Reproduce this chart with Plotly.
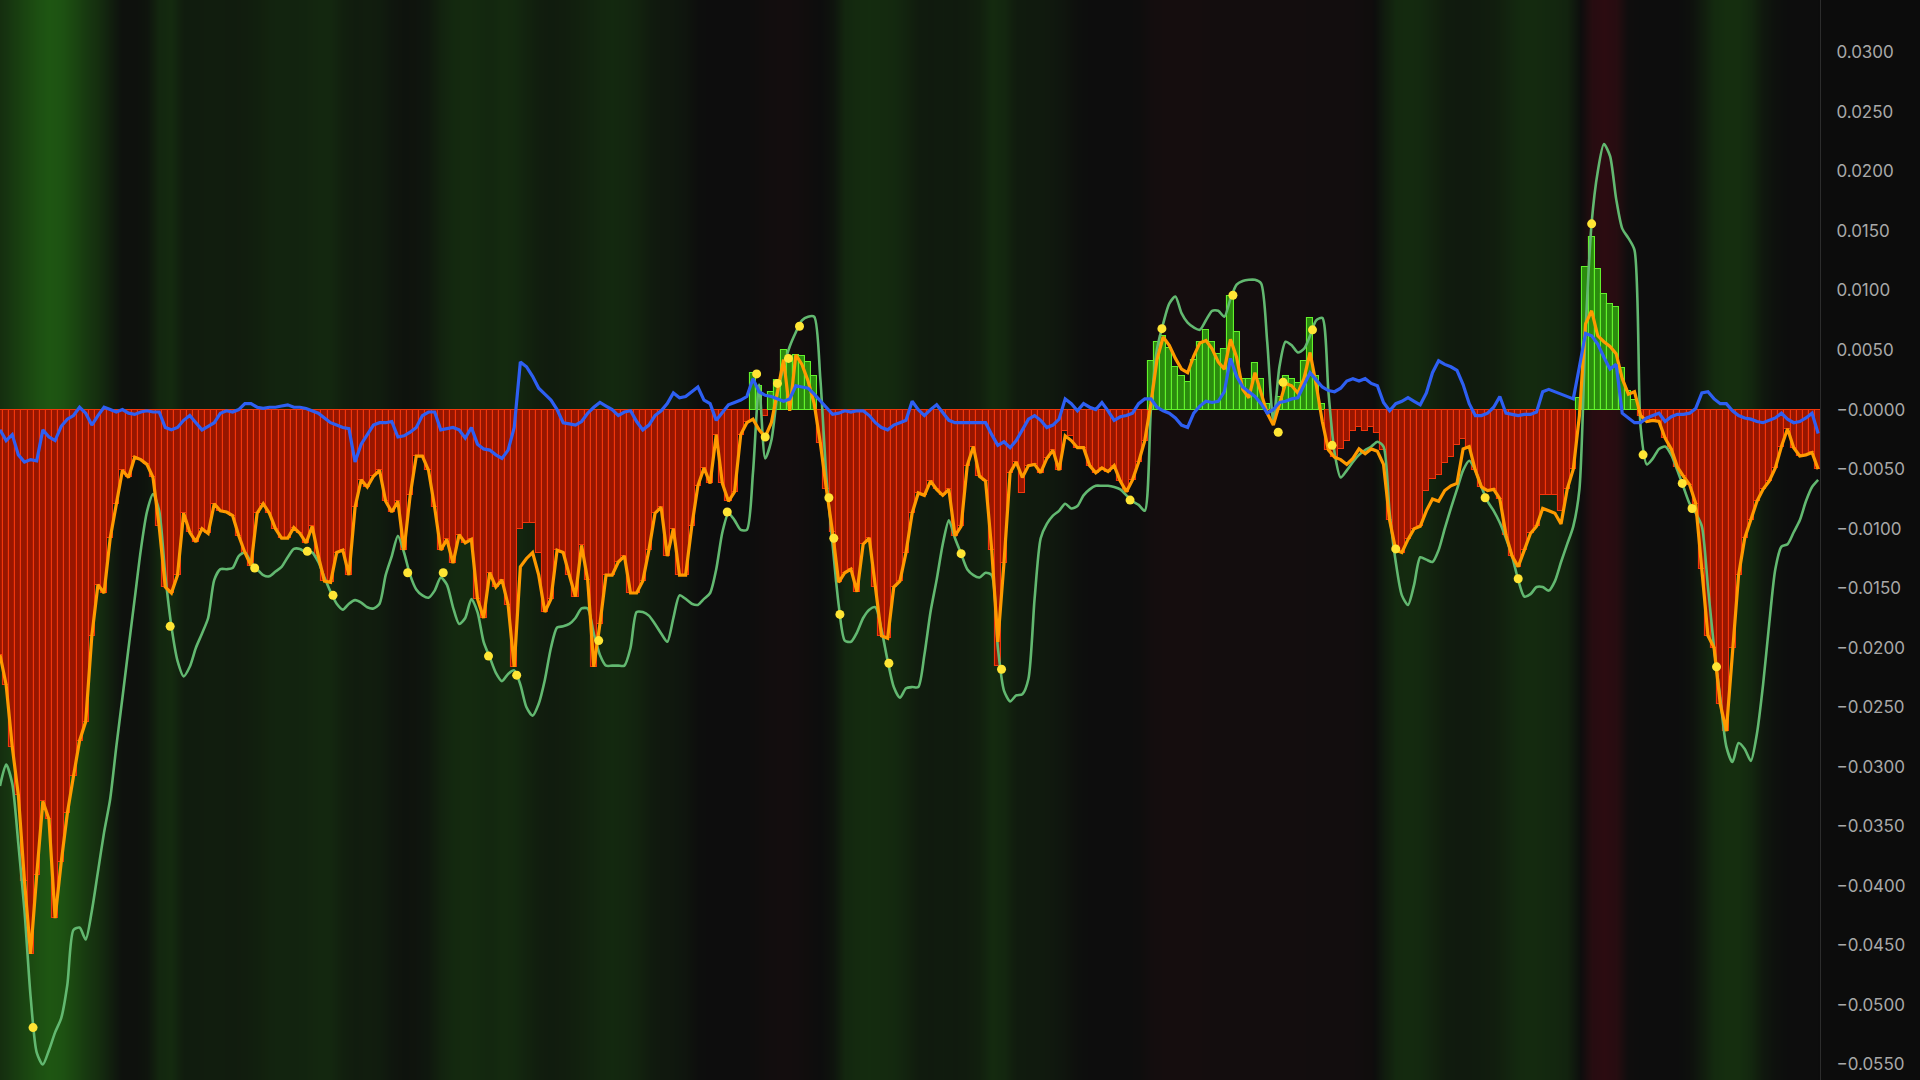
import plotly.graph_objects as go

UNIT = 1e-4  # all series values below are in units of 0.0001

orange = [
    -206, -231, -283, -324, -396, -457, -391, -329, -344, -427,
    -380, -339, -308, -278, -262, -190, -147, -154, -108, -79,
    -51, -57, -40, -42, -46, -57, -98, -149, -154, -139,
    -87, -103, -111, -100, -104, -79, -85, -86, -89, -106,
    -120, -131, -87, -79, -87, -100, -108, -108, -99, -104,
    -112, -98, -123, -144, -145, -120, -118, -139, -82, -59,
    -65, -56, -51, -77, -86, -77, -118, -72, -39, -39,
    -51, -82, -118, -109, -129, -105, -112, -109, -159, -175,
    -137, -149, -143, -164, -216, -132, -125, -120, -139, -170,
    -159, -118, -120, -139, -157, -114, -143, -216, -180, -139,
    -139, -128, -123, -154, -154, -144, -118, -87, -82, -123,
    -100, -139, -139, -98, -64, -49, -62, -21, -62, -77,
    -69, -21, -11, -8, -17, -23, -11, 15, 42, -1,
    46, 38, 24, 5, -28, -67, -103, -145, -137, -134,
    -153, -113, -108, -149, -190, -192, -149, -144, -120, -87,
    -70, -72, -60, -67, -72, -67, -106, -98, -47, -31,
    -56, -60, -118, -195, -129, -53, -44, -57, -47, -46,
    -53, -41, -34, -51, -22, -26, -32, -32, -47, -53,
    -49, -52, -47, -60, -69, -59, -44, -26, 5, 42,
    61, 54, 43, 34, 31, 45, 56, 58, 51, 40,
    34, 59, 44, 17, 10, 31, 15, -3, -13, 5,
    22, 20, 14, 26, 48, 21, -10, -34, -40, -42,
    -46, -41, -33, -37, -33, -35, -46, -93, -118, -120,
    -109, -100, -98, -85, -75, -77, -68, -64, -62, -33,
    -31, -51, -65, -68, -67, -75, -105, -123, -132, -118,
    -104, -98, -83, -85, -87, -96, -67, -50, -5, 72,
    83, 62, 57, 53, 47, 26, 13, 15, -5, -10,
    -9, -10, -24, -33, -48, -56, -63, -79, -134, -190,
    -200, -247, -270, -200, -139, -108, -93, -77, -67, -60,
    -49, -31, -16, -32, -39, -38, -36, -50,
]

histogram = [
    -206, -231, -283, -324, -396, -457, -391, -329, -344, -427,
    -380, -339, -308, -278, -262, -190, -147, -154, -108, -79,
    -51, -57, -40, -42, -46, -57, -98, -149, -154, -139,
    -87, -103, -111, -100, -104, -79, -85, -86, -89, -106,
    -120, -131, -87, -79, -87, -100, -108, -108, -99, -104,
    -112, -98, -123, -144, -145, -120, -118, -139, -82, -59,
    -65, -56, -51, -77, -86, -77, -118, -72, -39, -39,
    -51, -82, -118, -109, -129, -105, -112, -109, -159, -175,
    -137, -149, -143, -164, -216, -100, -95, -95, -120, -170,
    -159, -118, -120, -139, -157, -114, -143, -216, -180, -139,
    -139, -128, -123, -154, -154, -144, -118, -87, -82, -123,
    -100, -139, -139, -98, -64, -49, -62, -21, -62, -77,
    -69, -21, -10, 31, 20, -5, 15, 25, 50, 40,
    46, 45, 40, 28, -28, -67, -103, -145, -137, -134,
    -153, -113, -108, -149, -190, -192, -149, -144, -120, -87,
    -70, -72, -60, -67, -72, -67, -106, -98, -47, -31,
    -56, -60, -118, -215, -129, -53, -44, -70, -47, -46,
    -53, -41, -34, -51, -18, -22, -32, -32, -47, -53,
    -49, -52, -47, -60, -69, -59, -44, -26, 41, 57,
    62, 52, 36, 28, 23, 42, 57, 67, 57, 47,
    51, 95, 65, 26, 26, 39, 26, 5, -3, 11,
    28, 26, 22, 41, 77, 28, 5, -34, -40, -33,
    -26, -18, -15, -18, -15, -20, -34, -93, -118, -120,
    -109, -100, -98, -68, -58, -55, -45, -40, -30, -25,
    -31, -51, -65, -68, -67, -75, -105, -123, -132, -118,
    -104, -98, -72, -72, -72, -85, -67, -50, 10, 120,
    145, 118, 97, 89, 86, 35, 16, 8, -5, -10,
    -9, -10, -24, -33, -48, -56, -63, -79, -134, -190,
    -200, -247, -270, -200, -139, -108, -93, -77, -67, -60,
    -49, -31, -16, -32, -39, -38, -36, -50,
]

signal = [
    -316, -298, -314, -365, -421, -493, -540, -550, -538, -523,
    -511, -483, -437, -435, -445, -421, -388, -355, -327, -283,
    -242, -200, -159, -118, -86, -71, -85, -139, -182, -211,
    -224, -216, -200, -188, -175, -143, -134, -134, -133, -123,
    -120, -128, -134, -139, -140, -136, -132, -124, -117, -117,
    -120, -120, -128, -141, -153, -163, -168, -163, -160, -162,
    -166, -167, -163, -139, -123, -106, -120, -139, -151, -156,
    -158, -152, -141, -147, -166, -180, -175, -159, -170, -195,
    -208, -221, -228, -222, -219, -231, -250, -257, -247, -227,
    -200, -183, -182, -180, -175, -167, -167, -188, -206, -215,
    -215, -215, -215, -200, -170, -170, -173, -180, -188, -195,
    -175, -156, -159, -163, -164, -159, -154, -134, -103, -87,
    -93, -101, -101, -53, 21, -41, -26, 13, 36, 53,
    65, 75, 78, 78, 26, -57, -113, -164, -194, -195,
    -187, -175, -168, -166, -185, -211, -233, -242, -234, -233,
    -233, -206, -170, -143, -113, -93, -108, -121, -134, -139,
    -141, -137, -139, -200, -236, -245, -240, -239, -226, -159,
    -108, -96, -89, -85, -79, -83, -81, -72, -67, -64,
    -64, -64, -65, -67, -72, -77, -80, -85, 0, 51,
    72, 89, 95, 81, 73, 69, 67, 75, 83, 83,
    78, 93, 105, 108, 109, 109, 106, 57, -10, 36,
    57, 54, 48, 51, 62, 75, 77, 15, -36, -57,
    -51, -44, -38, -34, -31, -27, -31, -87, -128, -156,
    -164, -147, -124, -126, -128, -118, -100, -83, -67, -51,
    -43, -51, -65, -77, -85, -95, -108, -123, -143, -157,
    -155, -149, -149, -152, -144, -128, -113, -98, -67, 65,
    157, 200, 223, 213, 177, 152, 144, 134, -15, -46,
    -41, -33, -31, -38, -51, -65, -79, -87, -98, -149,
    -200, -242, -283, -296, -280, -285, -295, -272, -231, -180,
    -134, -115, -113, -103, -93, -77, -65, -59,
]

trend = [
    -17, -26, -21, -38, -44, -42, -43, -17, -23, -26,
    -14, -8, -5, 2, -3, -13, -5, 2, 0, -2,
    0, -3, -4, -2, -1, -2, -2, -15, -17, -15,
    -9, -5, -11, -17, -14, -11, -3, -1, -2, 0,
    5, 5, 2, 1, 2, 2, 3, 4, 2, 2,
    1, -1, -3, -7, -11, -13, -15, -16, -44, -29,
    -21, -13, -11, -11, -10, -23, -22, -19, -15, -5,
    -2, -2, -17, -16, -15, -17, -24, -15, -29, -33,
    -34, -38, -41, -34, -15, 40, 36, 28, 18, 13,
    8, 0, -11, -12, -13, -10, -3, 2, 6, 3,
    0, -5, -2, -1, -10, -17, -13, -5, -1, 5,
    14, 10, 11, 15, 19, 8, 5, -9, -3, 4,
    6, 8, 11, 26, 15, 12, 11, 9, 7, 9,
    20, 19, 18, 13, 7, 1, -4, -3, -1, -2,
    -1, -1, -5, -11, -15, -17, -13, -11, -9, 7,
    0, -5, 0, 4, -3, -9, -11, -11, -11, -11,
    -11, -11, -21, -30, -27, -32, -26, -17, -8, -5,
    -9, -15, -13, -8, 9, 5, -1, 5, 2, 0,
    6, -1, -9, -6, -5, -3, 5, 9, 9, 2,
    -1, -3, -7, -13, -15, -3, 3, 7, 6, 7,
    15, 43, 28, 19, 15, 11, 5, -3, 0, 6,
    7, 9, 10, 21, 31, 25, 19, 16, 15, 18,
    24, 26, 24, 26, 22, 20, 6, -1, 5, 7,
    10, 7, 4, 14, 31, 41, 38, 36, 33, 21,
    5, -5, -5, -3, 2, 11, -3, -4, -5, -4,
    -4, -2, 15, 17, 15, 13, 11, 9, 36, 64,
    62, 55, 44, 34, 38, -3, -7, -11, -11, -7,
    -5, -3, -10, -6, -4, -4, -3, 1, 14, 15,
    9, 5, 5, -1, -5, -7, -8, -10, -11, -9,
    -7, -3, -8, -11, -10, -7, -3, -20,
]

# background regime strength, one value per two samples (-1 bearish red .. +1 bullish green)
regime = [
    0.45, 0.6, 0.75, 0.9, 1.0, 0.95, 0.8, 0.6, 0.45, 0.25,
    0.05, 0.05, 0.1, 0.35, 0.4, 0.2, 0.2, 0.22, 0.22, 0.2,
    0.22, 0.25, 0.3, 0.32, 0.3, 0.32, 0.35, 0.35, 0.25, 0.2,
    0.22, 0.2, 0.12, 0.08, 0.1, 0.15, 0.3, 0.38, 0.4, 0.38,
    0.35, 0.4, 0.38, 0.3, 0.22, 0.2, 0.22, 0.25, 0.3, 0.35,
    0.38, 0.35, 0.3, 0.2, 0.15, 0.15, 0.1, 0.02, 0.0, 0.0,
    0.0, 0.0, -0.05, -0.1, -0.12, -0.1, -0.05, 0.0, 0.1, 0.35,
    0.4, 0.42, 0.4, 0.38, 0.3, 0.2, 0.18, 0.2, 0.18, 0.2,
    0.25, 0.4, 0.35, 0.2, 0.18, 0.18, 0.15, 0.1, 0.03, 0.0,
    0.0, 0.0, 0.0, -0.02, -0.12, -0.15, -0.15, -0.15, -0.15, -0.12,
    -0.12, -0.12, -0.12, -0.12, -0.12, -0.12, -0.12, -0.1, -0.1, -0.1,
    -0.1, -0.08, -0.05, 0.2, 0.38, 0.4, 0.38, 0.3, 0.2, 0.18,
    0.18, 0.2, 0.22, 0.3, 0.38, 0.4, 0.38, 0.35, 0.3, 0.05,
    -0.5, -0.6, -0.5, -0.05, 0.0, 0.0, 0.0, 0.0, 0.05, 0.2,
    0.4, 0.45, 0.45, 0.35, 0.15, 0.05, 0.0, 0.0, 0.0,
]

# crossover markers: sample position and value (units of 0.0001)
dot_x = [5.4, 27.8, 41.6, 50.2, 54.4, 66.6, 72.4, 79.8, 84.4, 97.8, 118.8, 123.6,
         125, 127, 128.8, 130.6, 135.4, 136.2, 137.2, 145.2, 157, 163.6, 184.6,
         189.8, 201.4, 209.6, 208.8, 214.4, 217.6, 228, 242.6, 248, 260, 268.4,
         274.8, 276.4, 280.4]
dot_y = [-519, -182, -133, -119, -156, -137, -137, -207, -223, -194, -86, 30,
         -23, 22, 43, 70, -74, -108, -172, -213, -121, -218, -76,
         68, 96, 23, -19, 67, -30, -117, -74, -142, 156, -38,
         -62, -83, -216]

tick_vals = [0.03, 0.025, 0.02, 0.015, 0.01, 0.005, 0.0, -0.005, -0.01, -0.015,
             -0.02, -0.025, -0.03, -0.035, -0.04, -0.045, -0.05, -0.055]
tick_text = ["0.0300", "0.0250", "0.0200", "0.0150", "0.0100", "0.0050",
             "\u22120.0000", "\u22120.0050", "\u22120.0100", "\u22120.0150",
             "\u22120.0200", "\u22120.0250", "\u22120.0300", "\u22120.0350",
             "\u22120.0400", "\u22120.0450", "\u22120.0500", "\u22120.0550"]

x = list(range(len(orange)))
regime_x = [2 * k for k in range(len(regime))]

def scaled(vals):
    return [v * UNIT for v in vals]

fig = go.Figure()

fig.add_trace(go.Heatmap(
    x=regime_x, y=[-0.07, 0.05], z=[regime, regime],
    zmin=-1, zmax=1, zsmooth="best", showscale=False, hoverinfo="skip",
    colorscale=[[0.0, "rgb(64,12,20)"], [0.5, "rgb(13,13,13)"], [1.0, "rgb(30,86,18)"]],
))

bar_fill = ["#2b8c0e" if v >= 0 else "#981600" for v in histogram]
bar_edge = ["#62f22c" if v >= 0 else "#f2360c" for v in histogram]
fig.add_trace(go.Bar(
    x=x, y=scaled(histogram), width=1.0,
    marker=dict(color=bar_fill, line=dict(color=bar_edge, width=1.1)),
    hoverinfo="skip",
))

fig.add_trace(go.Scatter(
    x=x, y=scaled(signal), mode="lines",
    line=dict(color="#62b870", width=2.6, shape="spline", smoothing=0.7),
    hoverinfo="skip",
))
fig.add_trace(go.Scatter(
    x=x, y=scaled(orange), mode="lines",
    line=dict(color="#ff9a00", width=3.2),
    hoverinfo="skip",
))
fig.add_trace(go.Scatter(
    x=x, y=scaled(trend), mode="lines",
    line=dict(color="#2e5ff2", width=3.2),
    hoverinfo="skip",
))
fig.add_trace(go.Scatter(
    x=dot_x, y=scaled(dot_y), mode="markers",
    marker=dict(size=9, color="#ffe534"),
    hoverinfo="skip",
))

fig.update_layout(
    width=1920, height=1080,
    margin=dict(l=0, r=100, t=0, b=0),
    paper_bgcolor="#0c0c0c", plot_bgcolor="#0c0c0c",
    showlegend=False, bargap=0, barmode="overlay",
    xaxis=dict(range=[0, 297.3], visible=False, fixedrange=True),
    yaxis=dict(
        side="right", range=[-0.0563, 0.0344],
        tickvals=tick_vals, ticktext=tick_text,
        showgrid=False, zeroline=False,
        showline=True, linecolor="#2c2c2c", linewidth=1,
        ticks="", ticklabelstandoff=12,
        tickfont=dict(family="Inter, Roboto, sans-serif", size=17, color="#a8a8a8"),
        fixedrange=True,
    ),
)

fig.write_html(
    "out.html",
    config={"displayModeBar": False},
    post_script="document.body.style.margin='0';document.body.style.overflow='hidden';",
)
